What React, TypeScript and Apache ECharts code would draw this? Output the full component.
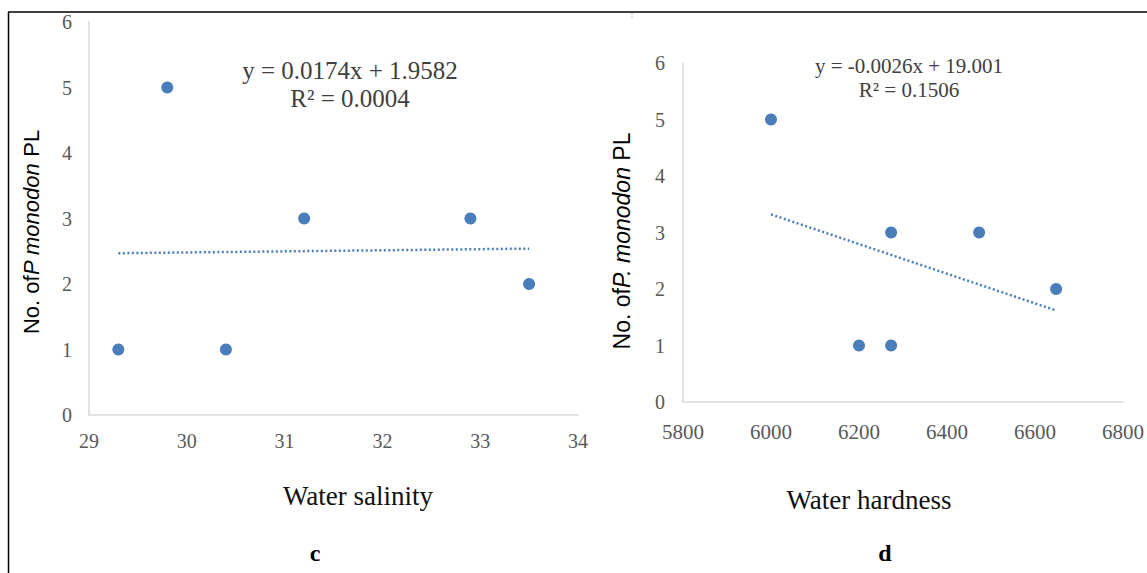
import React, { useEffect, useRef } from "react";
import * as echarts from "echarts";

// Panel c: water salinity
const salinity = [29.3, 29.8, 30.4, 31.2, 32.9, 33.5];
const salinityCount = [1, 5, 1, 3, 3, 2];
const salinityTrendX = [29.3, 33.5];
const salinityTrendY = [2.47, 2.54];
const salinityEq = "y = 0.0174x + 1.9582";
const salinityR2 = "R² = 0.0004";

// Panel d: water hardness
const hardness = [6000, 6200, 6273, 6273, 6473, 6648];
const hardnessCount = [5, 1, 1, 3, 3, 2];
const hardnessTrendX = [6000, 6648];
const hardnessTrendY = [3.32, 1.62];
const hardnessEq = "y = -0.0026x + 19.001";
const hardnessR2 = "R² = 0.1506";

const BLUE = "#4a7ebb";
const AXIS = "#d9d9d9";
const TICK = "#595959";
const SERIF = "Liberation Serif";
const SANS = "Liberation Sans";

function axisBase(min: number, max: number, interval: number, fontSize: number, margin: number) {
  return {
    type: "value",
    min,
    max,
    interval,
    axisLine: { show: true, lineStyle: { color: AXIS, width: 1.5 } },
    axisTick: { show: false },
    splitLine: { show: false },
    axisLabel: {
      color: TICK,
      fontFamily: SERIF,
      fontSize,
      margin,
      formatter: (v: number) => String(v),
    },
  };
}

export default function App() {
  const ref = useRef<HTMLDivElement>(null);
  useEffect(() => {
    if (!ref.current) return;
    const chart = echarts.init(ref.current, null, { renderer: "svg" });
    const titleRich = (size: number) => ({
      n: { fontFamily: SANS, fontSize: size, color: "#222" },
      i: { fontFamily: SANS, fontSize: size, fontStyle: "italic", color: "#222" },
    });
    chart.setOption({
      animation: false,
      backgroundColor: "#fff",
      textStyle: { fontFamily: SERIF },
      grid: [
        { left: 89, top: 22, width: 489, height: 393 },
        { left: 683, top: 63, width: 450, height: 339 },
      ],
      xAxis: [
        { ...axisBase(29, 34, 1, 20, 16), gridIndex: 0 },
        { ...axisBase(5800, 6800, 200, 21, 19), gridIndex: 1 },
      ],
      yAxis: [
        { ...axisBase(0, 6, 1, 20, 17), gridIndex: 0 },
        { ...axisBase(0, 6, 1, 20, 18), gridIndex: 1 },
      ],
      series: [
        {
          type: "line",
          xAxisIndex: 0,
          yAxisIndex: 0,
          data: salinityTrendX.map((x, i) => [x, salinityTrendY[i]]),
          symbol: "none",
          lineStyle: { color: BLUE, width: 2.5, type: [2, 2.5] },
          z: 1,
        },
        {
          type: "scatter",
          xAxisIndex: 0,
          yAxisIndex: 0,
          data: salinity.map((x, i) => [x, salinityCount[i]]),
          symbolSize: 12,
          itemStyle: { color: BLUE, opacity: 1 },
          z: 2,
        },
        {
          type: "line",
          xAxisIndex: 1,
          yAxisIndex: 1,
          data: hardnessTrendX.map((x, i) => [x, hardnessTrendY[i]]),
          symbol: "none",
          lineStyle: { color: BLUE, width: 2.5, type: [2, 2.5] },
          z: 1,
        },
        {
          type: "scatter",
          xAxisIndex: 1,
          yAxisIndex: 1,
          data: hardness.map((x, i) => [x, hardnessCount[i]]),
          symbolSize: 12,
          itemStyle: { color: BLUE, opacity: 1 },
          z: 2,
        },
      ],
      graphic: [
        { type: "line", shape: { x1: 8, y1: 12, x2: 1147, y2: 12 }, style: { stroke: "#000", lineWidth: 1.5 } },
        { type: "line", shape: { x1: 8.5, y1: 12, x2: 8.5, y2: 573 }, style: { stroke: "#000", lineWidth: 1.5 } },
        { type: "line", shape: { x1: 632, y1: 13, x2: 632, y2: 19 }, style: { stroke: "#bbb", lineWidth: 1, lineDash: [2, 1] } },
        {
          type: "text", x: 350, y: 70,
          style: { text: salinityEq, fontFamily: SERIF, fontSize: 25, fill: "#404040", align: "center", verticalAlign: "middle" },
        },
        {
          type: "text", x: 350, y: 98,
          style: { text: salinityR2, fontFamily: SERIF, fontSize: 25, fill: "#404040", align: "center", verticalAlign: "middle" },
        },
        {
          type: "text", x: 909, y: 66,
          style: { text: hardnessEq, fontFamily: SERIF, fontSize: 21, fill: "#404040", align: "center", verticalAlign: "middle" },
        },
        {
          type: "text", x: 909, y: 90,
          style: { text: hardnessR2, fontFamily: SERIF, fontSize: 21, fill: "#404040", align: "center", verticalAlign: "middle" },
        },
        {
          type: "text", x: 31, y: 232, rotation: Math.PI / 2,
          style: { text: "{n|No. of}{i|P monodon}{n| PL}", rich: titleRich(22), align: "center", verticalAlign: "middle" },
        },
        {
          type: "text", x: 622, y: 241, rotation: Math.PI / 2,
          style: { text: "{n|No. of}{i|P. monodon}{n| PL}", rich: titleRich(23), align: "center", verticalAlign: "middle" },
        },
        {
          type: "text", x: 358, y: 496,
          style: { text: "Water salinity", fontFamily: SERIF, fontSize: 27, fill: "#111", align: "center", verticalAlign: "middle" },
        },
        {
          type: "text", x: 869, y: 500,
          style: { text: "Water hardness", fontFamily: SERIF, fontSize: 27, fill: "#111", align: "center", verticalAlign: "middle" },
        },
        {
          type: "text", x: 315, y: 553,
          style: { text: "c", fontFamily: SERIF, fontSize: 24, fontWeight: "bold", fill: "#000", align: "center", verticalAlign: "middle" },
        },
        {
          type: "text", x: 885, y: 553,
          style: { text: "d", fontFamily: SERIF, fontSize: 24, fontWeight: "bold", fill: "#000", align: "center", verticalAlign: "middle" },
        },
      ],
    });
    return () => chart.dispose();
  }, []);
  return (
    <div
      ref={ref}
      style={{ position: "fixed", left: 0, top: 0, width: 1147, height: 573, overflow: "hidden" }}
    />
  );
}
